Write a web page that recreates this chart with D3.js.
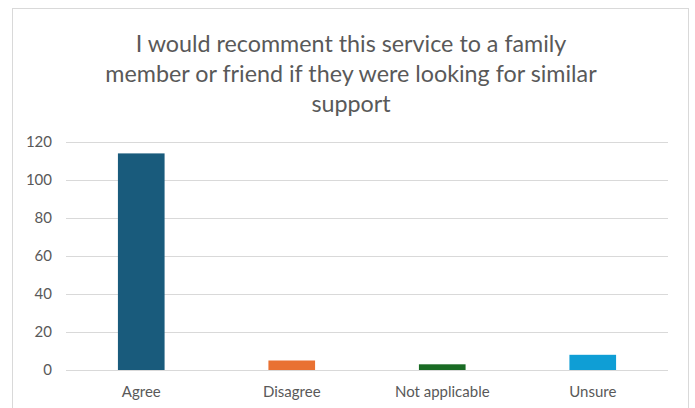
<!DOCTYPE html>
<html>
<head>
<meta charset="utf-8">
<script src="https://cdn.jsdelivr.net/npm/d3@7"></script>
<style>
  html, body { margin: 0; padding: 0; background: #fff; }
  svg { display: block; }
</style>
</head>
<body>
<svg id="chart" width="695" height="408"></svg>
<script>
// Survey responses
const categories = ["Agree", "Disagree", "Not applicable", "Unsure"];
const counts = [114, 5, 3, 8];
const colors = ["#195b7c", "#e97132", "#196b24", "#0f9ed5"];
const yTicks = [0, 20, 40, 60, 80, 100, 120];
const titleLines = [
  "I would recomment this service to a family",
  "member or friend if they were looking for similar",
  "support"
];

const svg = d3.select("#chart");
const font = "Lato, 'Open Sans', sans-serif";

// chart area frame
svg.append("rect")
  .attr("x", 12.5).attr("y", 8.5)
  .attr("width", 676).attr("height", 420)
  .attr("fill", "#fff").attr("stroke", "#d9d9d9").attr("stroke-width", 1);

// title
svg.append("g").selectAll("text")
  .data(titleLines).join("text")
  .attr("x", 351)
  .attr("y", (d, i) => 52 + i * 30)
  .attr("text-anchor", "middle")
  .attr("font-family", font)
  .attr("font-size", 23.3)
  .attr("fill", "#595959")
  .text(d => d);

const plot = { left: 66, right: 668, top: 142, bottom: 370 };

const x = d3.scaleBand().domain(categories).range([plot.left, plot.right]).padding(0);
const y = d3.scaleLinear().domain([0, 120]).range([plot.bottom, plot.top]);
const barW = x.bandwidth() * 0.31;

// gridlines
svg.append("g").selectAll("line")
  .data(yTicks).join("line")
  .attr("x1", plot.left).attr("x2", plot.right)
  .attr("y1", d => Math.round(y(d)) + 0.5).attr("y2", d => Math.round(y(d)) + 0.5)
  .attr("stroke", "#d9d9d9").attr("stroke-width", 1);

// y axis labels
const yAxis = svg.append("g")
  .attr("transform", `translate(${plot.left - 14},0)`)
  .call(d3.axisLeft(y).tickValues(yTicks).tickSize(0).tickPadding(0));
yAxis.select(".domain").remove();
yAxis.selectAll("text")
  .attr("font-family", font).attr("font-size", 15).attr("fill", "#595959");

// bars
svg.append("g").selectAll("rect")
  .data(categories).join("rect")
  .attr("x", d => x(d) + (x.bandwidth() - barW) / 2)
  .attr("width", barW)
  .attr("y", (d, i) => y(counts[i]))
  .attr("height", (d, i) => y(0) - y(counts[i]))
  .attr("fill", (d, i) => colors[i]);

// x axis labels
const xAxis = svg.append("g")
  .attr("transform", `translate(0,${plot.bottom})`)
  .call(d3.axisBottom(x).tickSize(0).tickPadding(16));
xAxis.select(".domain").remove();
xAxis.selectAll("text")
  .attr("font-family", font).attr("font-size", 15).attr("fill", "#595959");
</script>
</body>
</html>
